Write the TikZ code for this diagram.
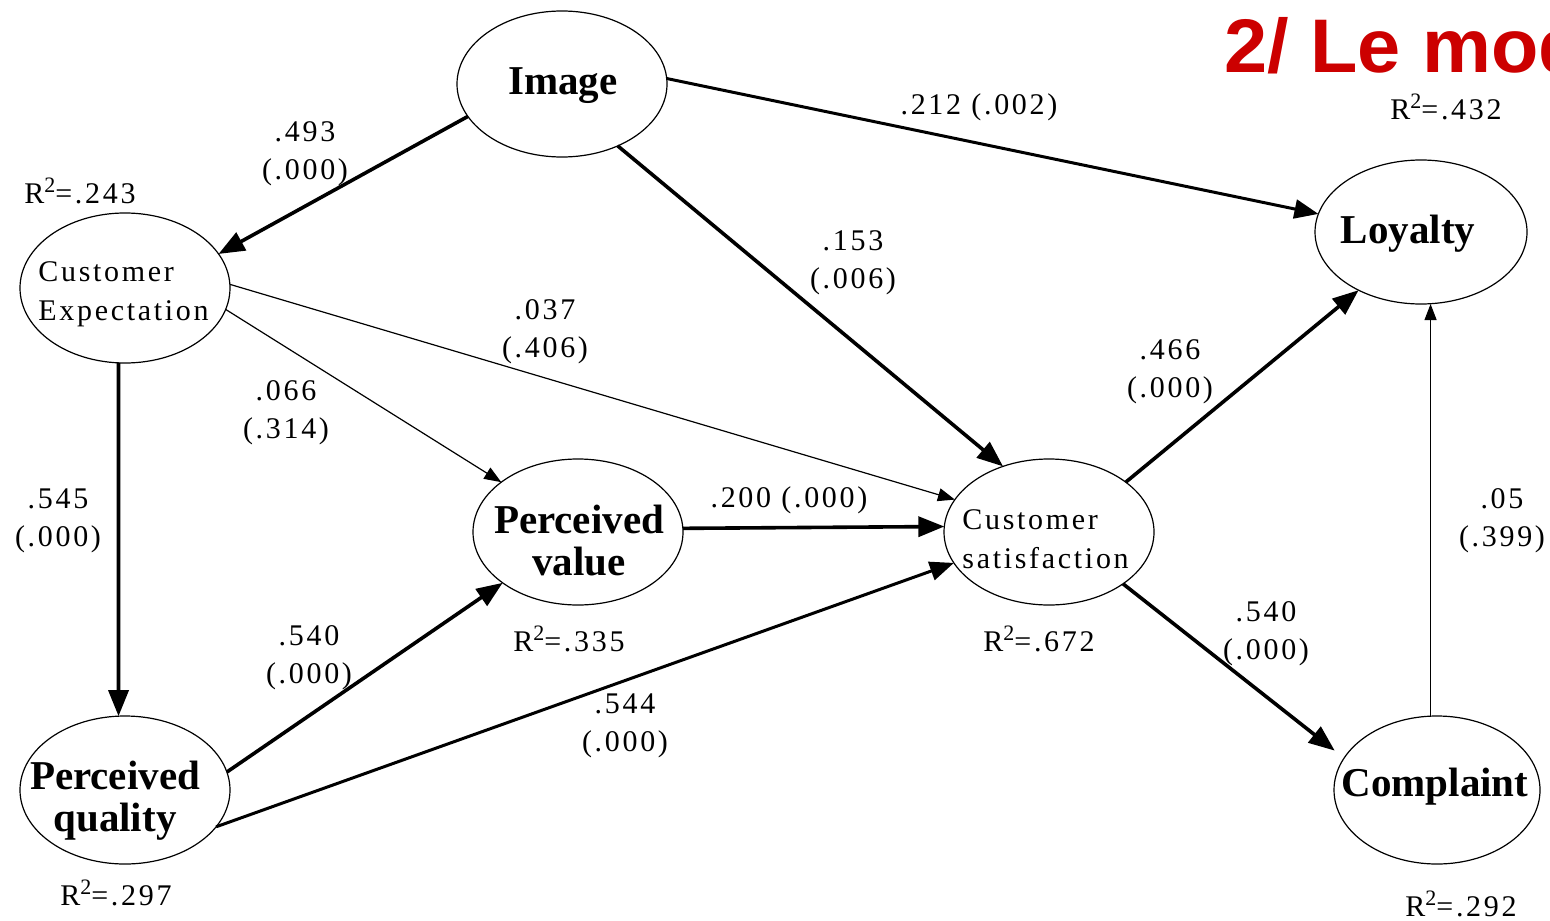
\documentclass[tikz,border=0pt]{standalone}
\usepackage{fontspec}
\setmainfont{Liberation Serif}
\newfontfamily\numfont[LetterSpace=9]{Liberation Serif}
\newfontfamily\titlefont{Liberation Sans}
\usetikzlibrary{arrows.meta,shapes.geometric}
\definecolor{titlered}{RGB}{204,0,0}
\newcommand{\rsq}[1]{R\raisebox{0.36em}{\fontsize{11}{11}\selectfont 2}=#1}
\begin{document}
\begin{tikzpicture}[x=0.5pt,y=-0.5pt,
 ell/.style={draw,ellipse,line width=0.6pt,inner sep=0pt,outer sep=0pt,minimum width=105pt,minimum height=73pt},
 bigtxt/.style={font=\bfseries\fontsize{20.5}{21}\selectfont,align=center,inner sep=0pt},
 smalltxt/.style={font=\numfont\fontsize{15}{19.5}\selectfont,align=left,inner sep=0pt},
 num/.style={font=\numfont\fontsize{15}{19}\selectfont,align=center,inner sep=0pt},
 bigarrow/.style={line width=1.8pt,-{Triangle[length=13pt,width=10pt]}},
 midarrow/.style={line width=1.5pt,-{Triangle[length=12pt,width=9.5pt]}},
 thinarrow/.style={line width=0.6pt,-{Triangle[length=8.5pt,width=6.5pt]}},
 plainline/.style={line width=0.6pt,-{Triangle[length=8pt,width=6pt]}},
]
\useasboundingbox (0,0) rectangle (1550,920);
\fill[white] (0,0) rectangle (1550,920);

% title (clipped at the right edge, as in the reference)
\begin{scope}
\clip (0,0) rectangle (1550,920);
\node[anchor=base west,inner sep=0pt,font=\titlefont\bfseries\fontsize{38}{38}\selectfont,text=titlered,xscale=1.02] (title) at (1224,73) {2/ Le mod};
\end{scope}

% ellipses
\node[ell] (img) at (562,84) {};
\node[ell,minimum height=75pt] (ce) at (125,288) {};
\node[ell] (pv) at (578,532) {};
\node[ell] (cs) at (1049,532) {};
\node[ell,minimum width=106pt,minimum height=72pt] (loy) at (1421,232) {};
\node[ell,minimum height=74pt] (pq) at (125,790) {};
\node[ell,minimum width=103pt,minimum height=74pt] (comp) at (1437,790) {};

% texts inside ellipses
\node[bigtxt] (timg) at (563,86) {Image};
\node[smalltxt,anchor=west] (tce) at (38,294) {Customer\\Expectation};
\node[bigtxt] (tpv) at (579,541) {Perceived\\value};
\node[smalltxt,anchor=west] (tcs) at (962,539) {Customer\\satisfaction};
\node[bigtxt] (tloy) at (1408,234) {Loyalty};
\node[bigtxt] (tpq) at (115,801) {Perceived\\quality};
\node[bigtxt] (tcomp) at (1435,787) {Complaint};

% connectors
\draw[bigarrow] (img.199) -- (ce.20.6);
\draw[midarrow] (img.3.3) -- (loy.170);
\draw[bigarrow] (img.312) -- (cs.125.4);
\draw[thinarrow] (ce.2.7) -- (cs.161.7);
\draw[thinarrow] (ce.348) -- (pv.147.4);
\draw[bigarrow] (ce.265) -- (pq.95);
\draw[bigarrow] (pv.2.7) -- (cs.177.3);
\draw[bigarrow] (pq.10.8) -- (pv.214.4);
\draw[midarrow] (pq.338.7) -- (cs.198.6);
\draw[bigarrow] (cs.33.5) -- (loy.223.3);
\draw[bigarrow,shorten >=6pt] (cs.325.4) -- (comp.161.4);
\draw[plainline] (comp.95.5) -- (comp.95.5 |- loy.south);

% path coefficients
\node[num] (l1) at (305,154) {.493\\(.000)};
\node[num] (l2) at (979,107) {.212 (.002)};
\node[num] (l3) at (853,263) {.153\\(.006)};
\node[num] (l4) at (545,332) {.037\\(.406)};
\node[num] (l5) at (286,413) {.066\\(.314)};
\node[num] (l6) at (58,521) {.545\\(.000)};
\node[num] (l7) at (789,500) {.200 (.000)};
\node[num] (l8) at (309,658) {.540\\(.000)};
\node[num] (l9) at (625,726) {.544\\(.000)};
\node[num] (l10) at (1170,372) {.466\\(.000)};
\node[num] (l11) at (1266,634) {.540\\(.000)};
\node[num] (l12) at (1502,521) {.05\\(.399)};

% R squared
\node[num] (r1) at (80,191) {\rsq{.243}};
\node[num] (r2) at (1446,107) {\rsq{.432}};
\node[num] (r3) at (569,639) {\rsq{.335}};
\node[num] (r4) at (1039,639) {\rsq{.672}};
\node[num] (r5) at (116,893) {\rsq{.297}};
\node[num] (r6) at (1461,904) {\rsq{.292}};
\end{tikzpicture}
\end{document}
